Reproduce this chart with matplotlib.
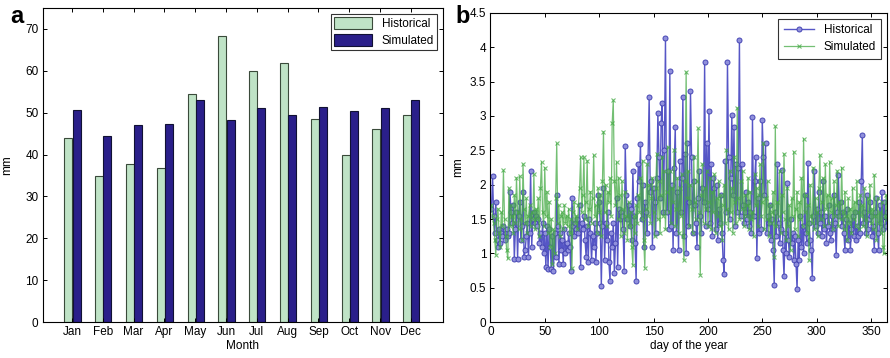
import numpy as np
import matplotlib
matplotlib.use('Agg')
import matplotlib.pyplot as plt

plt.rcParams['font.family'] = ['Liberation Sans', 'DejaVu Sans']
plt.rcParams['font.size'] = 8.5

# panel a: monthly totals (mm)
months = ['Jan', 'Feb', 'Mar', 'Apr', 'May', 'Jun', 'Jul', 'Aug', 'Sep', 'Oct', 'Nov', 'Dec']
hist_month = [44.0, 35.0, 37.8, 36.7, 54.5, 68.2, 60.0, 61.8, 48.6, 39.8, 46.2, 49.5]
sim_month = [50.6, 44.4, 47.0, 47.2, 53.0, 48.2, 51.0, 49.4, 51.4, 50.4, 51.0, 53.0]

# panel b: daily values (mm)
hist_day = [
    1.65, 2.12, 1.55, 1.30, 1.75, 1.20, 1.10, 1.35, 1.15, 1.30,
    1.25, 1.40, 1.20, 1.30, 1.35, 1.25, 1.30, 1.90, 1.60, 1.45,
    1.70, 0.92, 1.35, 1.60, 0.92, 1.55, 1.75, 1.20, 1.40, 1.90,
    0.95, 1.05, 1.25, 1.45, 0.95, 1.30, 2.20, 1.10, 1.50, 1.60,
    1.45, 1.55, 1.40, 1.50, 1.15, 1.30, 1.10, 1.45, 1.00, 1.30,
    0.80, 1.40, 0.78, 1.35, 1.10, 0.77, 1.25, 0.75, 1.30, 0.95,
    1.85, 1.40, 0.85, 1.30, 1.05, 1.20, 0.85, 1.35, 1.00, 1.15,
    1.05, 1.30, 1.10, 0.75, 1.80, 1.40, 1.25, 1.45, 1.35, 1.50,
    1.30, 1.70, 0.80, 1.45, 1.35, 1.55, 1.20, 0.95, 1.40, 0.88,
    1.50, 1.30, 0.90, 1.25, 1.10, 1.45, 0.88, 1.30, 1.85, 1.75,
    1.45, 0.53, 1.40, 1.95, 0.90, 1.45, 1.20, 1.60, 0.87, 0.60,
    1.30, 1.10, 1.45, 0.72, 1.15, 1.80, 0.80, 1.65, 1.50, 1.60,
    1.55, 1.35, 0.75, 2.57, 1.85, 1.50, 1.70, 1.40, 1.65, 1.20,
    2.20, 1.55, 1.15, 0.60, 1.80, 2.30, 2.05, 2.59, 1.50, 2.00,
    1.10, 1.75, 1.60, 1.30, 2.40, 3.28, 1.90, 2.05, 1.10, 1.95,
    1.75, 1.30, 2.10, 3.04, 2.40, 1.80, 2.90, 3.19, 1.60, 2.50,
    4.13, 1.60, 2.20, 1.35, 3.66, 1.40, 2.00, 1.05, 2.25, 2.84,
    1.30, 1.90, 1.05, 2.35, 1.60, 2.10, 3.28, 1.25, 2.45, 1.00,
    2.60, 1.40, 1.75, 3.36, 2.40, 1.30, 2.05, 1.70, 1.45, 1.10,
    1.80, 2.20, 1.55, 1.30, 1.95, 1.75, 3.78, 1.40, 2.60, 1.65,
    3.07, 1.45, 2.30, 1.25, 2.10, 1.95, 1.35, 2.00, 1.20, 1.65,
    1.45, 1.85, 1.30, 0.90, 0.70, 2.35, 1.60, 3.79, 2.40, 1.50,
    2.10, 3.01, 1.85, 2.84, 1.40, 2.30, 1.60, 2.25, 4.11, 1.55,
    2.30, 1.70, 1.45, 1.60, 1.90, 1.50, 1.75, 1.40, 1.60, 1.30,
    2.98, 1.55, 2.05, 2.40, 0.93, 1.80, 1.30, 2.05, 1.35, 2.94,
    2.40, 1.85, 2.60, 1.30, 1.55, 1.45, 1.70, 1.20, 1.50, 1.05,
    0.54, 1.60, 1.25, 2.30, 1.45, 1.15, 1.35, 2.21, 1.05, 0.67,
    1.30, 1.00, 2.02, 1.20, 0.95, 1.50, 1.15, 1.30, 0.90, 1.25,
    0.85, 0.48, 1.20, 0.90, 1.55, 1.10, 1.40, 1.00, 1.85, 1.30,
    1.15, 2.31, 1.45, 1.20, 1.05, 0.64, 1.55, 2.20, 1.40, 1.65,
    1.30, 1.90, 1.45, 1.60, 1.25, 2.05, 1.35, 1.55, 1.15, 1.40,
    1.70, 1.30, 1.20, 1.55, 1.35, 1.85, 1.45, 0.98, 1.60, 2.14,
    1.55, 1.75, 1.40, 1.60, 1.30, 1.05, 1.50, 1.65, 1.20, 1.45,
    1.05, 1.35, 1.55, 1.25, 1.60, 1.20, 1.40, 1.25, 1.75, 1.30,
    2.05, 2.72, 1.45, 1.60, 1.30, 1.85, 1.35, 1.50, 1.75, 1.55,
    1.25, 1.40, 1.05, 1.60, 1.80, 1.30, 1.05, 1.70, 1.45, 1.90,
    1.35, 1.75, 1.55, 1.40, 1.60,
]
sim_day = [
    1.70, 1.55, 1.45, 1.20, 0.98, 1.50, 1.65, 1.30, 1.10, 1.60,
    1.40, 2.21, 1.50, 1.25, 1.05, 0.93, 1.95, 1.40, 1.70, 1.55,
    1.30, 1.85, 1.45, 2.10, 1.60, 1.35, 2.12, 1.50, 1.20, 2.30,
    1.65, 1.45, 1.80, 1.30, 1.55, 1.70, 1.40, 1.60, 1.50, 2.15,
    1.35, 1.65, 1.50, 1.80, 1.25, 1.95, 2.33, 1.60, 1.40, 2.25,
    1.55, 1.90, 1.30, 1.75, 1.10, 1.50, 0.85, 1.35, 1.00, 1.80,
    2.60, 1.45, 1.70, 1.25, 1.55, 1.60, 1.35, 1.70, 1.45, 1.55,
    1.40, 1.65, 1.30, 1.50, 0.79, 1.60, 1.75, 1.45, 1.55, 1.35,
    1.70, 1.95, 2.40, 1.60, 1.85, 2.40, 1.50, 1.75, 2.35, 1.40,
    1.65, 1.90, 1.45, 1.80, 2.43, 1.55, 1.70, 1.30, 1.95, 1.60,
    1.85, 1.25, 2.05, 2.77, 1.60, 2.00, 1.40, 1.90, 1.75, 2.10,
    1.55, 2.90, 3.23, 2.05, 1.70, 2.33, 1.50, 2.10, 1.85, 1.25,
    2.05, 1.65, 1.30, 1.90, 1.55, 1.20, 1.75, 1.40, 1.60, 1.10,
    0.83, 1.55, 1.30, 1.70, 1.45, 1.85, 1.60, 2.10, 1.50, 2.35,
    1.20, 0.79, 1.65, 2.30, 1.55, 2.00, 1.45, 1.80, 2.10, 1.60,
    1.25, 1.95, 2.45, 1.50, 2.05, 1.30, 1.85, 2.40, 1.55, 2.20,
    1.35, 1.90, 2.55, 1.60, 2.20, 1.45, 1.95, 1.75, 2.50, 1.40,
    1.65, 2.10, 1.30, 1.95, 1.55, 2.15, 1.25, 0.90, 2.05, 3.64,
    1.80, 2.20, 1.40, 2.00, 1.65, 1.30, 2.40, 1.75, 1.50, 2.05,
    2.82, 1.60, 0.69, 1.85, 2.30, 1.45, 1.95, 1.65, 2.20, 1.40,
    1.75, 2.10, 1.35, 1.90, 1.60, 2.15, 1.30, 1.80, 1.55, 2.05,
    1.40, 1.85, 1.20, 1.70, 2.00, 1.45, 2.50, 1.65, 1.35, 2.20,
    1.60, 1.95, 1.30, 2.40, 1.75, 1.45, 3.12, 1.80, 1.50, 2.05,
    1.65, 2.20, 1.40, 1.85, 1.55, 1.70, 2.10, 1.35, 1.90, 1.50,
    1.60, 1.25, 2.15, 1.70, 1.95, 1.40, 1.85, 2.30, 1.55, 1.75,
    2.60, 1.35, 1.80, 1.50, 2.05, 1.25, 1.70, 1.45, 1.60, 1.90,
    0.95, 2.85, 1.40, 1.75, 1.55, 2.20, 1.30, 1.85, 1.60, 2.45,
    1.50, 1.20, 1.95, 1.40, 1.70, 1.05, 1.80, 1.55, 2.48, 1.35,
    1.65, 1.90, 1.25, 1.75, 1.50, 2.10, 1.40, 2.67, 1.60, 1.85,
    1.30, 1.70, 0.90, 2.00, 1.55, 1.45, 2.25, 1.35, 1.80, 1.60,
    1.25, 1.95, 2.43, 1.50, 1.75, 2.10, 1.40, 2.30, 1.65, 1.85,
    1.45, 2.33, 1.60, 1.80, 1.35, 2.05, 1.55, 1.70, 2.20, 1.40,
    1.75, 1.50, 2.25, 1.60, 1.35, 1.90, 1.55, 1.20, 1.80, 1.45,
    1.65, 1.30, 1.95, 1.50, 1.75, 1.40, 2.05, 1.60, 1.35, 1.85,
    1.55, 1.70, 1.40, 1.95, 1.50, 1.25, 1.80, 1.60, 2.00, 1.45,
    1.65, 1.35, 2.14, 1.55, 1.20, 1.80, 1.45, 1.60, 1.30, 1.75,
    1.10, 1.00, 1.55, 1.85, 1.50,
]
days = np.arange(1, len(hist_day) + 1)

fig = plt.figure(figsize=(8.9, 3.58), dpi=100)
ax1 = fig.add_axes([0.048, 0.10, 0.450, 0.878])
ax2 = fig.add_axes([0.551, 0.10, 0.446, 0.864])

# --- a: bars
x = np.arange(1, 13)
w = 0.26
ax1.bar(x - 0.12, hist_month, w, color='#bfe3c6', edgecolor='#3a4a3a', lw=0.8, label='Historical')
ax1.bar(x + 0.15, sim_month, w, color='#2a1f8a', edgecolor='#111133', lw=0.8, label='Simulated')
ax1.set_xlim(0.05, 13.05)
ax1.set_ylim(0, 75)
ax1.set_xticks(x)
ax1.set_xticklabels(months)
ax1.set_yticks(range(0, 71, 10))
ax1.set_xlabel('Month', labelpad=1)
ax1.set_ylabel('mm', labelpad=9)
leg1 = ax1.legend(loc='upper right', fancybox=False, edgecolor='black', handlelength=3.2,
                  handleheight=1.2, borderpad=0.3, labelspacing=0.3, fontsize=8.5)
leg1.get_frame().set_linewidth(0.8)

# --- b: daily lines
ax2.plot(days, hist_day, '-o', color='#5656c6', lw=1.0, ms=3.6, mfc='#9090dc', mec='#4646b4',
         mew=0.7, label='Historical')
ax2.plot(days, sim_day, '-x', color='#45aa45', lw=0.9, ms=3.2, mew=0.8, alpha=0.75,
         label='Simulated')
ax2.set_xlim(0, 365)
ax2.set_ylim(0, 4.5)
ax2.set_xticks(range(0, 351, 50))
ax2.set_yticks(np.arange(0, 4.51, 0.5))
ax2.set_yticklabels(['0', '0.5', '1', '1.5', '2', '2.5', '3', '3.5', '4', '4.5'])
ax2.set_xlabel('day of the year', labelpad=1)
ax2.set_ylabel('mm', labelpad=4)
leg2 = ax2.legend(loc='upper right', fancybox=False, edgecolor='black', handlelength=2.6,
                  borderpad=0.45, labelspacing=0.45, fontsize=8.5)
leg2.get_frame().set_linewidth(0.8)

for ax in (ax1, ax2):
    ax.tick_params(direction='in', top=True, right=True, length=3, width=0.7, labelsize=8.5, pad=3)
    for s in ax.spines.values():
        s.set_linewidth(0.8)

fig.text(0.012, 0.935, 'a', fontsize=17, fontweight='bold')
fig.text(0.512, 0.935, 'b', fontsize=17, fontweight='bold')

fig.savefig('out.png', dpi=100)
